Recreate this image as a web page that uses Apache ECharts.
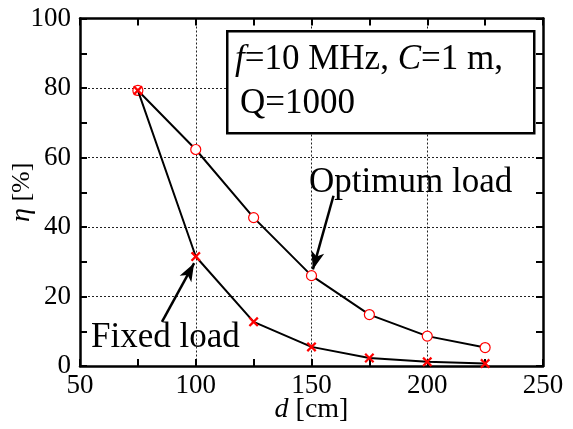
<!DOCTYPE html>
<html><head><meta charset="utf-8">
<script src="https://cdn.jsdelivr.net/npm/echarts@6/dist/echarts.min.js"></script>
<style>html,body{margin:0;padding:0;background:#fff}#c{width:573px;height:429px}</style>
</head><body><div id="c"></div>
<script>
var distances = [75, 100, 125, 150, 175, 200, 225];
var optimumLoad = [79.3, 62.3, 42.7, 26.0, 14.8, 8.6, 5.3];
var fixedLoad = [79.3, 31.5, 12.7, 5.5, 2.3, 1.2, 0.7];
var xTicks = [50, 100, 150, 200, 250];
var yTicks = [0, 20, 40, 60, 80, 100];
var optimumArrow = [[159.5, 49], [150.6, 27.8]];
var fixedArrow = [[85.4, 12.7], [99.3, 29.6]];

var FONT = 'Liberation Serif';
var chart = echarts.init(document.getElementById('c'));
var crossPath = 'path://M0,1.6 L1.6,0 L5,3.4 L8.4,0 L10,1.6 L6.6,5 L10,8.4 L8.4,10 L5,6.6 L1.6,10 L0,8.4 L3.4,5 Z';

function pairs(xs, ys){ return xs.map(function(x,i){return [x, ys[i]];}); }

function ax(extra){
  return Object.assign({
    type:'value',
    axisLine:{show:true, onZero:false, lineStyle:{color:'#000', width:2.5}},
    axisTick:{show:true, inside:true, length:7, lineStyle:{color:'#000', width:2}},
    minorTick:{show:true, splitNumber:2, length:7, lineStyle:{color:'#000', width:2}},
    splitLine:{show:false}
  }, extra);
}

chart.setOption({
  animation:false,
  backgroundColor:'#fff',
  grid:{left:80, right:30, top:18.5, bottom:63, containLabel:false, outerBoundsMode:'none'},
  xAxis:[
    ax({
      min:xTicks[0], max:xTicks[xTicks.length-1], interval:50, position:'bottom',
      axisLabel:{color:'#000', fontFamily:FONT, fontSize:27, margin:6},
      splitLine:{show:true, lineStyle:{color:'#222', type:[2,2], width:1}},
      name:'{i|d} [cm]', nameLocation:'middle', nameGap:30, nameMoveOverlap:false,
      nameTextStyle:{color:'#000', fontFamily:FONT, fontSize:28, verticalAlign:'top',
        rich:{i:{fontStyle:'italic', fontFamily:FONT, fontSize:28, color:'#000'}}}
    }),
    ax({
      min:xTicks[0], max:xTicks[xTicks.length-1], interval:50, position:'top',
      axisLabel:{show:false}
    })
  ],
  yAxis:[
    ax({
      min:yTicks[0], max:yTicks[yTicks.length-1], interval:20, position:'left',
      axisLabel:{color:'#000', fontFamily:FONT, fontSize:27, margin:9},
      splitLine:{show:true, lineStyle:{color:'#222', type:[2,2], width:1}},
      name:'{i|η} [%]', nameLocation:'middle', nameGap:44, nameRotate:90, nameMoveOverlap:false,
      nameTextStyle:{color:'#000', fontFamily:FONT, fontSize:26, verticalAlign:'bottom',
        rich:{i:{fontStyle:'italic', fontFamily:FONT, fontSize:28, color:'#000'}}}
    }),
    ax({
      min:yTicks[0], max:yTicks[yTicks.length-1], interval:20, position:'right',
      axisLabel:{show:false}
    })
  ],
  series:[
    {
      name:'Optimum load', type:'line', data:pairs(distances, optimumLoad),
      symbol:'circle', symbolSize:10, showAllSymbol:true,
      lineStyle:{color:'#000', width:2},
      itemStyle:{color:'#fff', borderColor:'#f00', borderWidth:1.2},
      z:3,
      markLine:{
        silent:true, symbol:['none','arrow'], symbolSize:[10,18],
        lineStyle:{color:'#000', width:2.5, type:'solid'}, label:{show:false},
        data:[[{coord:optimumArrow[0]},{coord:optimumArrow[1]}],[{coord:fixedArrow[0]},{coord:fixedArrow[1]}]]
      }
    },
    {
      name:'Fixed load', type:'line', data:pairs(distances, fixedLoad),
      symbol:crossPath, symbolSize:10, showAllSymbol:true,
      lineStyle:{color:'#000', width:2},
      itemStyle:{color:'#f00', borderWidth:0},
      z:4
    }
  ],
  graphic:[
    {type:'rect', left:226, top:30, shape:{width:307, height:102},
     style:{fill:'#fff', stroke:'#000', lineWidth:2.5}, z:10},
    {type:'text', x:235, y:60, z:11,
     style:{text:'{i|f}=10 MHz, {i|C}=1 m,', fill:'#000', font:'35px "Liberation Serif"', verticalAlign:'middle',
       rich:{i:{fontStyle:'italic', fontFamily:FONT, fontSize:35, fill:'#000'}}}},
    {type:'text', x:240, y:104, z:11,
     style:{text:'Q=1000', fill:'#000', font:'35px "Liberation Serif"', verticalAlign:'middle'}},
    {type:'text', x:309, y:183, z:11,
     style:{text:'Optimum load', fill:'#000', font:'35px "Liberation Serif"', verticalAlign:'middle'}},
    {type:'text', x:91, y:338, z:11,
     style:{text:'Fixed load', fill:'#000', font:'35px "Liberation Serif"', verticalAlign:'middle'}}
  ]
});
</script></body></html>
